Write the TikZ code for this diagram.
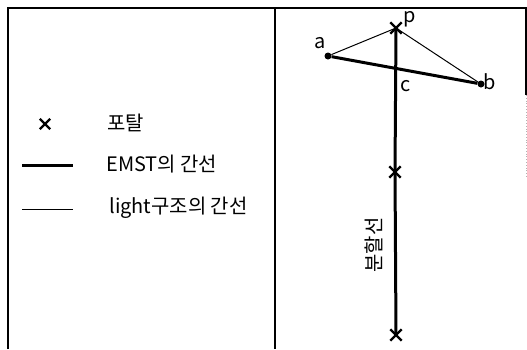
\documentclass[tikz,border=0pt]{standalone}
\usepackage{fontspec}
\setmainfont{Noto Sans CJK KR}
\usetikzlibrary{shapes.misc}

\begin{document}
\begin{tikzpicture}[x=1bp,y=-1bp,font=\fontsize{20}{24}\selectfont,
portal/.style={cross out,draw,line width=2.4bp,minimum size=9bp,inner sep=0pt},
site/.style={circle,fill,inner sep=0pt,minimum size=7bp},
emst/.style={line width=3bp},
light/.style={line width=1bp},
frame/.style={line width=2bp}]
\useasboundingbox (0,0) rectangle (527,349);
% outer frame and divider
\draw[frame] (8,349) -- (8,8) -- (526,8) -- (526,95);
\draw[gray!60,dotted,line width=0.8bp] (526,95) -- (526,178);
\draw[frame] (275,8) -- (275,349);
% legend
\node[portal,minimum size=8bp] (lgportal) at (45,124) {};
\node[anchor=west] (lgportaltext) at (104,123) {포탈};
\coordinate (lgemstA) at (22,165.5);
\coordinate (lgemstB) at (73,165.5);
\draw[emst] (lgemstA) -- (lgemstB);
\node[anchor=west] (lgemsttext) at (103,164) {EMST의 간선};
\coordinate (lglightA) at (22,209.5);
\coordinate (lglightB) at (73,209.5);
\draw[light] (lglightA) -- (lglightB);
\node[anchor=west] (lglighttext) at (106,208) {light구조의 간선};
% points and portals
\node[portal] (p) at (396,28) {};
\node[portal] (q) at (395,172) {};
\node[portal] (r) at (396,335) {};
\node[site] (a) at (328,56) {};
\node[site] (b) at (481,84) {};
\node (alabel) at (320,43) {a};
\node (blabel) at (490,82) {b};
\node (plabel) at (410,19) {p};
\node (c) at (406,86) {c};
% edges
\draw[light] (a) -- (p.center) -- (b);
\draw[emst] (a) -- (b);
\draw[emst] (p.center) -- (q.center) -- (r.center);
\node[rotate=90] (cut) at (374,245) {분할선};
\end{tikzpicture}
\end{document}
